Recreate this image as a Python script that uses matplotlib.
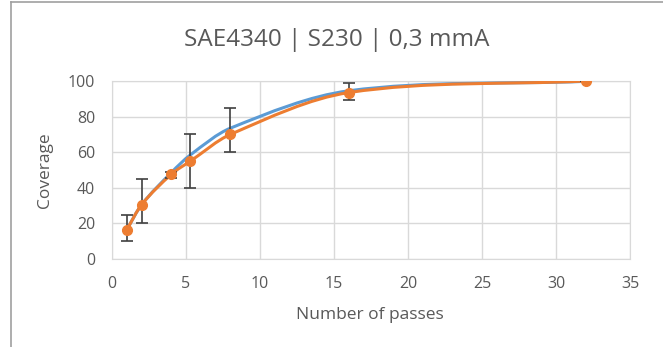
import numpy as np
import matplotlib.pyplot as plt
from matplotlib.path import Path
from matplotlib.patches import PathPatch
from matplotlib.lines import Line2D

# Data
passes = [1, 2, 4, 5.3, 8, 16, 32]
coverage_measured = [16.5, 30.5, 47.5, 55, 70, 93.5, 100]
coverage_fit = [16.5, 30.5, 48.5, 58.5, 73.5, 94.5, 99.8]
err_low = [6.5, 10.5, 2, 15, 10, 4, 0]
err_high = [8.5, 14.5, 1.5, 15, 15, 5.5, 0]

title = "SAE4340 | S230 | 0,3 mmA"
x_label = "Number of passes"
y_label = "Coverage"

text_color = "#595959"
grid_color = "#d9d9d9"
blue = "#5b9bd5"
orange = "#ed7d31"


def smooth_path(xs, ys):
    """Smoothed line like Excel's: cubic Bezier segments with slopes from neighbours."""
    xs = np.asarray(xs, float)
    ys = np.asarray(ys, float)
    n = len(xs)
    slopes = np.empty(n)
    slopes[0] = (ys[1] - ys[0]) / (xs[1] - xs[0])
    slopes[-1] = (ys[-1] - ys[-2]) / (xs[-1] - xs[-2])
    for i in range(1, n - 1):
        slopes[i] = (ys[i + 1] - ys[i - 1]) / (xs[i + 1] - xs[i - 1])
    verts = [(xs[0], ys[0])]
    codes = [Path.MOVETO]
    for i in range(n - 1):
        h = (xs[i + 1] - xs[i]) / 3
        verts += [(xs[i] + h, ys[i] + h * slopes[i]),
                  (xs[i + 1] - h, ys[i + 1] - h * slopes[i + 1]),
                  (xs[i + 1], ys[i + 1])]
        codes += [Path.CURVE4] * 3
    return Path(verts, codes)


plt.rcParams['font.family'] = ['Open Sans', 'DejaVu Sans']

fig = plt.figure(figsize=(6.63, 3.47), dpi=100)
ax = fig.add_axes([112 / 663, 1 - 259 / 347, 518 / 663, 178 / 347])

ax.add_patch(PathPatch(smooth_path(passes, coverage_fit), fill=False,
                       edgecolor=blue, lw=2.2, zorder=3))
ax.add_patch(PathPatch(smooth_path(passes, coverage_measured), fill=False,
                       edgecolor=orange, lw=2.2, zorder=4))
ax.errorbar(passes, coverage_measured, yerr=[err_low, err_high], fmt='none',
            ecolor="#404040", elinewidth=1.2, capsize=4, capthick=1.2, zorder=5)
ax.plot(passes, coverage_measured, 'o', color=orange, ms=7, zorder=6)

ax.set_xlim(0, 35)
ax.set_ylim(0, 100)
ax.set_xticks(np.arange(0, 36, 5))
ax.set_yticks(np.arange(0, 101, 20))
ax.grid(True, color=grid_color, lw=1)
ax.set_axisbelow(True)
for s in ax.spines.values():
    s.set_color(grid_color)
ax.tick_params(length=0, labelsize=11.5, colors=text_color)
ax.tick_params(axis='y', pad=12)
ax.tick_params(axis='x', pad=12)

fig.text(337 / 663, 1 - 46 / 347, title, fontsize=17.5, color=text_color,
         ha='center', va='baseline')
ax.set_xlabel(x_label, fontsize=12.5, color=text_color)
ax.set_ylabel(y_label, fontsize=12.5, color=text_color)
ax.xaxis.set_label_coords(0.498, -0.27)
ax.yaxis.set_label_coords(-0.114, 0.497)

# chart frame (top and left edge visible in the reference)
fig.add_artist(Line2D([11 / 663, 1], [1 - 2 / 347, 1 - 2 / 347],
                      transform=fig.transFigure, color="#a0a0a0", lw=1.2))
fig.add_artist(Line2D([11 / 663, 11 / 663], [0, 1 - 2 / 347],
                      transform=fig.transFigure, color="#a0a0a0", lw=1.2))

fig.savefig("out.png", dpi=100)
